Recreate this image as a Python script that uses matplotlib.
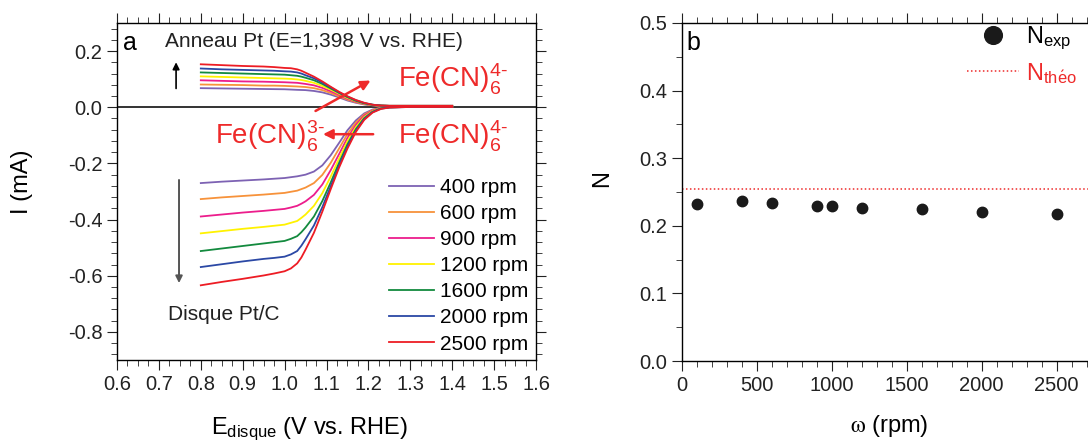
import matplotlib
matplotlib.use("Agg")
import matplotlib.pyplot as plt
from matplotlib.ticker import MultipleLocator

plt.rcParams['font.family'] = ['Liberation Sans', 'DejaVu Sans']
plt.rcParams['mathtext.fontset'] = 'custom'
plt.rcParams['mathtext.rm'] = 'Liberation Sans'
plt.rcParams['mathtext.it'] = 'Liberation Sans:italic'
plt.rcParams['mathtext.bf'] = 'Liberation Sans:bold'
plt.rcParams['axes.linewidth'] = 1.0

# ---- panel a : disque / anneau currents vs E ----
E = [0.80, 0.85, 0.90, 0.95, 0.975, 1.00, 1.015, 1.03, 1.04, 1.05, 1.07, 1.09, 1.11, 1.13,
     1.15, 1.17, 1.19, 1.21, 1.23, 1.25, 1.30, 1.40]
speeds = ["400 rpm", "600 rpm", "900 rpm", "1200 rpm", "1600 rpm", "2000 rpm", "2500 rpm"]
colors = ["#7d62b3", "#f7923a", "#ec1d8c", "#fff200", "#138a3e", "#2b48a5", "#ed1c24"]

I_disk = [
    [-0.270, -0.265, -0.261, -0.257, -0.2545, -0.252, -0.249, -0.246, -0.243, -0.240, -0.229, -0.207, -0.171, -0.127, -0.082, -0.047, -0.022, -0.008, -0.002, 0.000, 0.001, 0.001],
    [-0.327, -0.321, -0.316, -0.311, -0.308, -0.305, -0.301, -0.297, -0.2915, -0.286, -0.270, -0.241, -0.198, -0.147, -0.095, -0.055, -0.026, -0.010, -0.002, 0.000, 0.001, 0.001],
    [-0.389, -0.382, -0.375, -0.369, -0.3655, -0.362, -0.357, -0.351, -0.3435, -0.335, -0.312, -0.275, -0.224, -0.167, -0.109, -0.063, -0.030, -0.012, -0.003, 0.000, 0.001, 0.001],
    [-0.449, -0.441, -0.433, -0.426, -0.422, -0.418, -0.4115, -0.405, -0.394, -0.382, -0.351, -0.306, -0.247, -0.183, -0.121, -0.071, -0.035, -0.014, -0.004, 0.000, 0.001, 0.001],
    [-0.512, -0.503, -0.494, -0.485, -0.4805, -0.476, -0.4685, -0.459, -0.445, -0.428, -0.389, -0.334, -0.268, -0.198, -0.132, -0.078, -0.039, -0.016, -0.004, 0.000, 0.001, 0.001],
    [-0.569, -0.559, -0.549, -0.540, -0.5365, -0.532, -0.524, -0.512, -0.493, -0.470, -0.421, -0.356, -0.282, -0.208, -0.140, -0.084, -0.042, -0.017, -0.005, -0.001, 0.001, 0.001],
    [-0.634, -0.622, -0.611, -0.599, -0.592, -0.584, -0.574, -0.556, -0.535, -0.507, -0.447, -0.372, -0.292, -0.215, -0.147, -0.088, -0.045, -0.019, -0.006, -0.001, 0.001, 0.001],
]
I_ring = [
    [0.068, 0.067, 0.066, 0.065, 0.0645, 0.064, 0.063, 0.062, 0.0615, 0.061, 0.058, 0.053, 0.045, 0.035, 0.024, 0.016, 0.010, 0.007, 0.005, 0.005, 0.005, 0.005],
    [0.081, 0.080, 0.079, 0.077, 0.077, 0.076, 0.075, 0.074, 0.073, 0.072, 0.068, 0.061, 0.051, 0.039, 0.027, 0.018, 0.011, 0.007, 0.005, 0.005, 0.005, 0.005],
    [0.096, 0.094, 0.092, 0.091, 0.090, 0.089, 0.088, 0.087, 0.085, 0.083, 0.078, 0.069, 0.057, 0.044, 0.030, 0.020, 0.012, 0.008, 0.006, 0.005, 0.005, 0.005],
    [0.110, 0.108, 0.106, 0.104, 0.103, 0.102, 0.101, 0.099, 0.097, 0.094, 0.087, 0.076, 0.063, 0.048, 0.033, 0.022, 0.013, 0.008, 0.006, 0.005, 0.005, 0.005],
    [0.124, 0.122, 0.120, 0.118, 0.117, 0.116, 0.114, 0.112, 0.109, 0.105, 0.096, 0.083, 0.067, 0.051, 0.036, 0.023, 0.014, 0.009, 0.006, 0.005, 0.005, 0.005],
    [0.138, 0.135, 0.133, 0.131, 0.130, 0.128, 0.127, 0.124, 0.120, 0.114, 0.103, 0.088, 0.071, 0.053, 0.038, 0.025, 0.015, 0.009, 0.006, 0.005, 0.005, 0.005],
    [0.153, 0.150, 0.147, 0.145, 0.143, 0.140, 0.139, 0.135, 0.130, 0.123, 0.109, 0.092, 0.073, 0.055, 0.039, 0.026, 0.016, 0.009, 0.006, 0.005, 0.005, 0.005],
]

# ---- panel b : collection efficiency ----
omega = [100, 400, 600, 900, 1000, 1200, 1600, 2000, 2500]
N_exp = [0.232, 0.236, 0.234, 0.230, 0.230, 0.227, 0.225, 0.220, 0.217]
N_theo = 0.254

red = "#ee2a2a"
W, H = 1088, 444
fig = plt.figure(figsize=(W / 100, H / 100), dpi=100)
ax1 = fig.add_axes([117 / W, (H - 360) / H, 419 / W, 337 / H])
ax2 = fig.add_axes([681.5 / W, (H - 361) / H, 408 / W, 338 / H])

# panel a
for i in range(len(speeds)):
    ax1.plot(E, I_disk[i], color=colors[i], lw=1.3, label=speeds[i])
    ax1.plot(E, I_ring[i], color=colors[i], lw=1.3)
ax1.axhline(0, color="#333333", lw=1.4, zorder=0)
ax1.set_xlim(0.6, 1.6)
ax1.set_ylim(-0.9, 0.3)
ax1.xaxis.set_major_locator(MultipleLocator(0.1))
ax1.xaxis.set_minor_locator(MultipleLocator(0.025))
ax1.yaxis.set_major_locator(MultipleLocator(0.2))
ax1.yaxis.set_minor_locator(MultipleLocator(0.04))
ax1.xaxis.set_major_formatter(plt.FuncFormatter(lambda v, p: "%.1f" % v))
ax1.yaxis.set_major_formatter(plt.FuncFormatter(lambda v, p: "%.1f" % v))
ax1.tick_params(which="both", direction="out", top=True, right=True, labelsize=14.5, colors="#222222")
ax1.tick_params(which="major", length=7)
ax1.tick_params(which="minor", length=4)
ax1.set_ylabel("I (mA)", fontsize=17)
ax1.yaxis.set_label_coords(-0.2, 0.53)
ax1.set_xlabel(r"E$_{\mathrm{disque}}$ (V vs. RHE)", fontsize=17)
ax1.xaxis.set_label_coords(0.46, -0.165)

ax1.legend(loc="upper left", bbox_to_anchor=(0.649, 0.540), frameon=False, fontsize=15,
           handlelength=2.15, handletextpad=0.3, labelspacing=0.34, borderpad=0, borderaxespad=0)

ax1.text(0.014, 0.94, "a", transform=ax1.transAxes, fontsize=18, va="center", ha="left")
ax1.text(0.115, 0.944, "Anneau Pt (E=1,398 V vs. RHE)", transform=ax1.transAxes,
         fontsize=15, va="center", ha="left", color="#222222")
ax1.text(0.122, 0.134, "Disque Pt/C", transform=ax1.transAxes,
         fontsize=15, va="center", ha="left", color="#222222")

ax1.annotate("", xy=(0.741, 0.170), xytext=(0.741, 0.057),
             arrowprops=dict(arrowstyle="-|>", color="black", lw=1.2, mutation_scale=10))
ax1.annotate("", xy=(0.748, -0.636), xytext=(0.748, -0.249),
             arrowprops=dict(arrowstyle="-|>", color="#555555", lw=1.4, mutation_scale=10))
ax1.annotate("", xy=(1.211, 0.100), xytext=(1.068, -0.018),
             arrowprops=dict(arrowstyle="-|>", color=red, lw=1.8, mutation_scale=14))
ax1.annotate("", xy=(1.085, -0.096), xytext=(1.218, -0.096),
             arrowprops=dict(arrowstyle="-|>", color=red, lw=1.8, mutation_scale=14))

fe4 = r"Fe(CN)$_6^{4\text{-}}$"
fe3 = r"Fe(CN)$_6^{3\text{-}}$"
ax1.text(1.27, 0.098, fe4, fontsize=20, color=red, va="center", ha="left")
ax1.text(1.27, -0.102, fe4, fontsize=20, color=red, va="center", ha="left")
ax1.text(0.835, -0.102, fe3, fontsize=20, color=red, va="center", ha="left")

# panel b
ax2.plot(omega, N_exp, "o", color="#1a1a1a", ms=7.5, label=r"N$_{\mathrm{exp}}$")
ax2.axhline(N_theo, color=red, lw=1.1, ls=(0, (1, 1.6)), label=r"N$_{\mathrm{th\'eo}}$")
ax2.set_xlim(0, 2720)
ax2.set_ylim(0, 0.5)
ax2.xaxis.set_major_locator(MultipleLocator(500))
ax2.xaxis.set_minor_locator(MultipleLocator(100))
ax2.yaxis.set_major_locator(MultipleLocator(0.1))
ax2.yaxis.set_minor_locator(MultipleLocator(0.05))
ax2.yaxis.set_major_formatter(plt.FuncFormatter(lambda v, p: "%.1f" % v))
ax2.tick_params(which="both", direction="out", labelsize=14.5, colors="#222222")
ax2.tick_params(which="major", length=7)
ax2.tick_params(which="minor", length=4)
ax2.tick_params(axis="x", which="both", top=True)
ax2.spines["right"].set_visible(False)
ax2.set_ylabel("N", fontsize=17)
ax2.yaxis.set_label_coords(-0.168, 0.54)
ax2.set_xlabel(r"$\mathrm{\omega}$ (rpm)", fontsize=17, math_fontfamily="stix")
ax2.xaxis.set_label_coords(0.51, -0.154)
ax2.text(0.011, 0.94, "b", transform=ax2.transAxes, fontsize=18, va="center", ha="left")

leg = ax2.legend(loc="upper left", bbox_to_anchor=((967 - 681.5) / 408, (361 - 25) / 338),
                 frameon=False, fontsize=17, markerscale=1.7, handlelength=2.2,
                 handletextpad=0.3, labelspacing=0.35, borderpad=0, borderaxespad=0)
leg.get_texts()[1].set_color(red)

fig.savefig("out.png", dpi=100)
